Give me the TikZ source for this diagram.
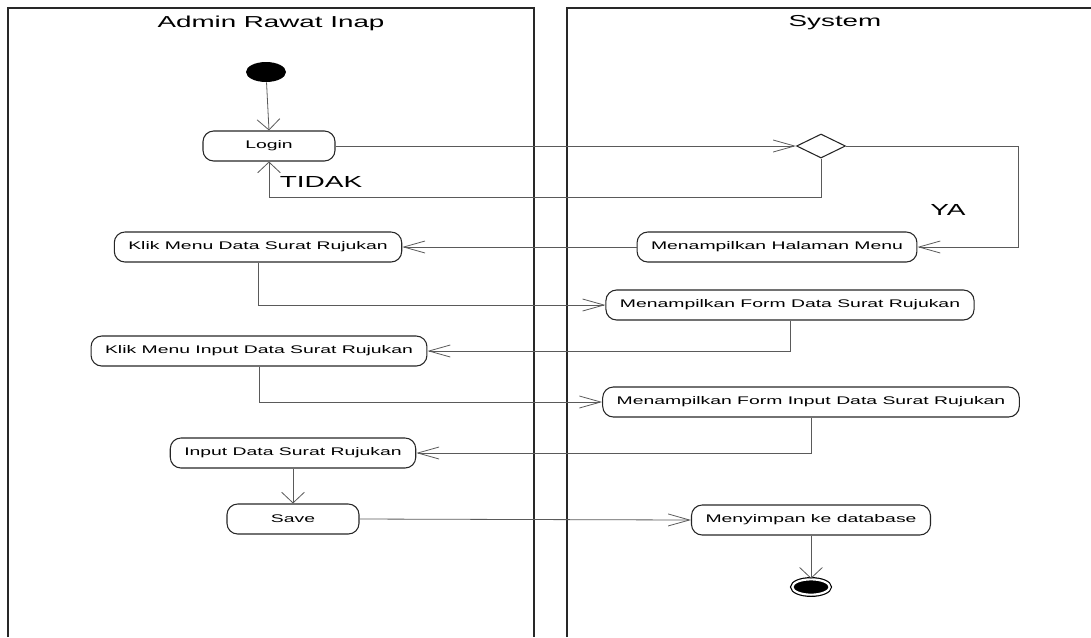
\documentclass[tikz,border=0pt]{standalone}
\usepackage{fontspec}
\setmainfont{Liberation Sans}[FakeStretch=1.75]
\usepackage{tikz}
\usetikzlibrary{shapes.geometric,arrows.meta}
\definecolor{lanegray}{RGB}{40,40,40}
\definecolor{wiregray}{RGB}{90,90,90}

\begin{document}
\begin{tikzpicture}[x=0.75pt,y=-0.75pt,
  act/.style={rectangle,rounded corners=8pt,minimum width=99pt,minimum height=22.5pt,
              inner xsep=10.5pt,draw=black!85,line width=0.8pt,font=\fontsize{8.3}{10}\selectfont},
  lane/.style={draw=lanegray,line width=1.3pt},
  hflow/.style={draw=wiregray,line width=0.6pt,-{Straight Barb[length=16pt,width=9pt]}},
  vflow/.style={draw=wiregray,line width=0.6pt,-{Straight Barb[length=8pt,width=17pt]}},
  tag/.style={font=\fontsize{12}{14}\selectfont}]
  \useasboundingbox (0,0) rectangle (1091,637);
  % swimlanes
  \draw[lane] (8,637) -- (8,8) -- (534,8) -- (534,637);
  \draw[lane] (567,637) -- (567,8) -- (1091,8);
  \node[font=\fontsize{11.9}{14}\selectfont] (lnadmin) at (271,23) {Admin Rawat Inap};
  \node[font=\fontsize{11.9}{14}\selectfont] (lnsys) at (835,23) {System};

  \node[ellipse,fill=black,minimum width=30pt,minimum height=15pt,inner sep=0pt] (st) at (266,72) {};
  \node[act] (login) at (269,146) {Login};
  \node[diamond,draw=black!85,line width=0.8pt,minimum width=36.75pt,minimum height=18pt,inner sep=0pt] (dec) at (821,146) {};
  \node[act] (menu) at (777,247) {Menampilkan Halaman Menu};
  \node[act] (klik) at (258,247) {Klik Menu Data Surat Rujukan};
  \node[act] (form) at (790,305) {Menampilkan Form Data Surat Rujukan};
  \node[act] (klikin) at (259,351) {Klik Menu Input Data Surat Rujukan};
  \node[act] (formin) at (811,402) {Menampilkan Form Input Data Surat Rujukan};
  \node[act] (input) at (293,453) {Input Data Surat Rujukan};
  \node[act] (save) at (293,519) {Save};
  \node[act] (simpan) at (811,520) {Menyimpan ke database};
  \node[ellipse,fill=black,draw=black,double=white,double distance=1.6pt,line width=0.9pt,
        minimum width=28pt,minimum height=11.5pt,inner sep=0pt] (fin) at (811,587) {};

  \draw[vflow] (st) -- (login.north);
  \draw[hflow] (login.east) -- (dec.west);
  \draw[vflow] (dec.south) -- ++(0,39) -| (login.south);
  \node[tag] (tidak) at (321,182) {TIDAK};
  \draw[hflow] (dec.east) -- ++(172,0) |- (menu.east);
  \node[tag] (ya) at (948,210) {YA};
  \draw[hflow] (menu.west) -- (klik.east);
  \draw[hflow] (klik.south) |- (form.west);
  \draw[hflow] (form.south) |- (klikin.east);
  \draw[hflow] (klikin.south) |- (formin.west);
  \draw[hflow] (formin.south) |- (input.east);
  \draw[vflow] (input) -- (save);
  \draw[hflow] (save.east) -- (simpan.west);
  \draw[vflow] (simpan) -- (fin);
\end{tikzpicture}
\end{document}
